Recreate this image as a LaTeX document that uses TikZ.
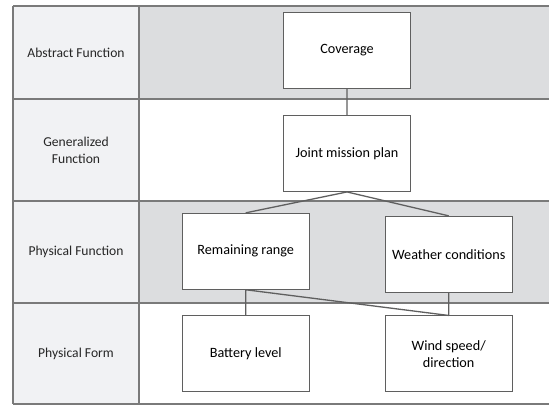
\documentclass[tikz,border=0pt]{standalone}
\usepackage{fontspec}
\setmainfont{Carlito}
\usetikzlibrary{positioning}
\definecolor{bandgray}{HTML}{DCDDDF}
\definecolor{headgray}{HTML}{F1F2F4}
\definecolor{rulegray}{HTML}{7A7A7A}
\definecolor{boxgray}{HTML}{5F5F5F}
\tikzset{
  func/.style={draw=boxgray, fill=white, line width=0.9pt, minimum width=127pt,
    minimum height=76pt, align=center, inner sep=2pt, font=\fontsize{14.2}{17}\selectfont},
  lvl/.style={align=center, font=\fontsize{13.6}{17}\selectfont, text=black!85},
  link/.style={draw=boxgray, line width=1.3pt}
}
\begin{document}
\begin{tikzpicture}[x=1pt,y=-1pt]
  \useasboundingbox (0,0) rectangle (549,405);
  % level bands
  \fill[headgray] (13,6) rectangle (139,404);
  \fill[bandgray] (139,6) rectangle (549,99);
  \fill[bandgray] (139,201) rectangle (549,303);
  \draw[rulegray, line width=1.2pt] (13,6) -- (549,6) (13,99) -- (549,99)
    (13,201) -- (549,201) (13,303) -- (549,303) (13,404) -- (549,404)
    (13,6) -- (13,404) (139,6) -- (139,404);
  \node[lvl] (abs)  at (76,52.5)  {Abstract Function};
  \node[lvl] (gen)  at (76,150)   {Generalized\\Function};
  \node[lvl] (phf)  at (76,252)   {Physical Function};
  \node[lvl] (phform) at (76,353.5) {Physical Form};
  % functions
  \node[func] (cov) at (347,50.2) {Coverage};
  \node[func] (jmp) [below=26.4pt of cov] {Joint mission plan};
  \node[func] (rr)  at (245.7,251.3) {Remaining range};
  \node[func] (wc)  at (448.7,254.3) {Weather conditions};
  \node[func] (bl)  [below=25.7pt of rr] {Battery level};
  \node[func] (ws)  [below=22.7pt of wc] {Wind speed/\\direction};
  \path[link]
    (cov) -- (jmp)
    (jmp.south) -- (rr.north)
    (jmp.south) -- (wc.north)
    (rr.south) -- (bl.north)
    (rr.south) -- (ws.north)
    (wc.south) -- (ws.north);
\end{tikzpicture}
\end{document}
